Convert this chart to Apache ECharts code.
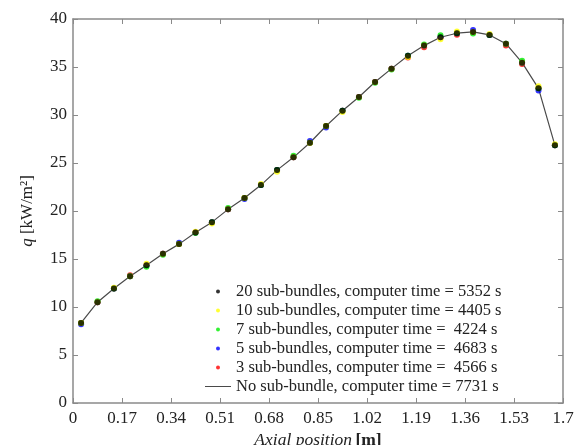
<!DOCTYPE html>
<html>
<head>
<meta charset="utf-8">
<script src="https://cdn.jsdelivr.net/npm/echarts@6/dist/echarts.min.js"></script>
<style>html,body{margin:0;padding:0;background:#fff}#c{width:575px;height:445px}</style>
</head>
<body>
<div id="c"></div>
<script>
var xPos = [0.028, 0.085, 0.142, 0.198, 0.255, 0.312, 0.368, 0.425, 0.482, 0.538, 0.595, 0.652, 0.708, 0.765, 0.822, 0.878, 0.935, 0.992, 1.048, 1.105, 1.162, 1.218, 1.275, 1.332, 1.388, 1.445, 1.502, 1.558, 1.615, 1.672];
var q20 = [8.34, 10.5, 11.93, 13.2, 14.36, 15.54, 16.55, 17.77, 18.84, 20.17, 21.35, 22.70, 24.26, 25.59, 27.11, 28.85, 30.45, 31.88, 33.44, 34.83, 36.18, 37.23, 38.10, 38.52, 38.65, 38.34, 37.43, 35.45, 32.78, 26.84];
var q10 = [8.34, 10.5, 12.0, 13.2, 14.5, 15.54, 16.55, 17.85, 18.7, 20.17, 21.35, 22.8, 24.1, 25.59, 27.11, 28.85, 30.3, 31.88, 33.44, 34.83, 36.05, 37.23, 37.9, 38.7, 38.65, 38.45, 37.43, 35.45, 33.0, 26.95];
var q7 = [8.34, 10.6, 11.93, 13.2, 14.2, 15.45, 16.55, 17.7, 18.84, 20.3, 21.35, 22.70, 24.26, 25.75, 27.11, 28.85, 30.45, 31.8, 33.35, 34.75, 36.18, 37.35, 38.3, 38.52, 38.5, 38.34, 37.43, 35.65, 32.78, 26.84];
var q5 = [8.2, 10.5, 11.93, 13.2, 14.36, 15.54, 16.7, 17.77, 18.84, 20.17, 21.25, 22.70, 24.26, 25.59, 27.3, 28.7, 30.45, 31.88, 33.44, 34.83, 36.18, 37.23, 38.10, 38.52, 38.85, 38.34, 37.43, 35.45, 32.55, 26.84];
var q3 = [8.34, 10.5, 11.93, 13.3, 14.36, 15.54, 16.55, 17.77, 18.84, 20.17, 21.35, 22.70, 24.26, 25.59, 27.11, 28.85, 30.45, 31.88, 33.44, 34.83, 36.0, 37.05, 38.10, 38.35, 38.65, 38.34, 37.25, 35.3, 32.78, 26.84];
var qNone = [8.34, 10.5, 11.93, 13.2, 14.36, 15.54, 16.55, 17.77, 18.84, 20.17, 21.35, 22.70, 24.26, 25.59, 27.11, 28.85, 30.45, 31.88, 33.44, 34.83, 36.18, 37.23, 38.10, 38.52, 38.65, 38.34, 37.43, 35.45, 32.78, 26.84];
var xTickLabels = ['0','0.17','0.34','0.51','0.68','0.85','1.02','1.19','1.36','1.53','1.7'];
var yTickLabels = ['0','5','10','15','20','25','30','35','40'];
var legendNames = [
  '20 sub-bundles, computer time = 5352 s',
  '10 sub-bundles, computer time = 4405 s',
  '7 sub-bundles, computer time =  4224 s',
  '5 sub-bundles, computer time =  4683 s',
  '3 sub-bundles, computer time =  4566 s',
  'No sub-bundle, computer time = 7731 s'
];

function pairs(ys){ return ys.map(function(y,i){ return [xPos[i], y]; }); }
var FONT = 'Liberation Serif';
var AX = '#8a8a8a';
var TXT = '#222';

var chart = echarts.init(document.getElementById('c'), null, {renderer:'canvas'});
function scatter(name, data, color, z){
  return {name:name, type:'scatter', data:pairs(data), symbol:'circle', symbolSize:6, z:z,
    itemStyle:{color:color}, emphasis:{disabled:true}, animation:false};
}
chart.setOption({
  animation:false,
  backgroundColor:'#fff',
  grid:{left:73, right:12, top:19, bottom:42, containLabel:false, outerBoundsMode:'none'},
  legend:{
    orient:'vertical', left:200, top:277, itemWidth:26, itemHeight:4, itemGap:0,
    textStyle:{fontFamily:FONT, fontSize:16.5, color:TXT, lineHeight:19},
    data:[
      {name:legendNames[0], icon:'circle'},
      {name:legendNames[1], icon:'circle'},
      {name:legendNames[2], icon:'circle'},
      {name:legendNames[3], icon:'circle'},
      {name:legendNames[4], icon:'circle'},
      {name:legendNames[5], icon:'path://M0,0 L26,0 L26,1 L0,1 Z'}
    ]
  },
  xAxis:[{
    type:'value', min:0, max:1.7, interval:0.17,
    name:'{i|Axial position} {b|[m]}', nameLocation:'middle', nameGap:25,
    nameTextStyle:{rich:{i:{fontFamily:FONT, fontSize:17.5, fontStyle:'italic', color:TXT}, b:{fontFamily:FONT, fontSize:17.5, fontWeight:'bold', color:TXT}}},
    axisLine:{show:true, onZero:false, lineStyle:{color:AX, width:1.5}},
    axisTick:{show:true, inside:true, length:5, lineStyle:{color:AX}},
    axisLabel:{fontFamily:FONT, fontSize:17, color:TXT, margin:7, showMaxLabel:true, hideOverlap:false,
      formatter:function(v,i){ return xTickLabels[Math.round(v/0.17)]; }},
    splitLine:{show:false}
  },{
    type:'value', position:'top', min:0, max:1.7, interval:0.17,
    axisLine:{show:true, onZero:false, lineStyle:{color:AX, width:1.5}},
    axisTick:{show:true, inside:true, length:5, lineStyle:{color:AX}},
    axisLabel:{show:false}, splitLine:{show:false}
  }],
  yAxis:[{
    type:'value', min:0, max:40, interval:5,
    name:'{i|q} [kW/m²]', nameLocation:'middle', nameGap:37, nameRotate:90,
    nameTextStyle:{fontFamily:FONT, fontSize:17, color:TXT, rich:{i:{fontFamily:FONT, fontSize:17, fontStyle:'italic', color:TXT}}},
    axisLine:{show:true, onZero:false, lineStyle:{color:AX, width:1.5}},
    axisTick:{show:true, inside:true, length:5, lineStyle:{color:AX}},
    axisLabel:{fontFamily:FONT, fontSize:17, color:TXT, margin:6,
      formatter:function(v){ return yTickLabels[Math.round(v/5)]; }},
    splitLine:{show:false}
  },{
    type:'value', position:'right', min:0, max:40, interval:5,
    axisLine:{show:true, onZero:false, lineStyle:{color:AX, width:1.5}},
    axisTick:{show:true, inside:true, length:5, lineStyle:{color:AX}},
    axisLabel:{show:false}, splitLine:{show:false}
  }],
  series:[
    {name:legendNames[5], type:'line', data:pairs(qNone), symbol:'none', z:2,
      lineStyle:{color:'#4a4a4a', width:1.2}, itemStyle:{color:'#4a4a4a'}, emphasis:{disabled:true}},
    scatter(legendNames[4], q3, '#ff0000', 3),
    scatter(legendNames[3], q5, '#0000ff', 3),
    scatter(legendNames[2], q7, '#00ee00', 3),
    scatter(legendNames[1], q10, '#ffff00', 3),
    scatter(legendNames[0], q20, '#000000', 5)
  ]
});
</script>
</body>
</html>
